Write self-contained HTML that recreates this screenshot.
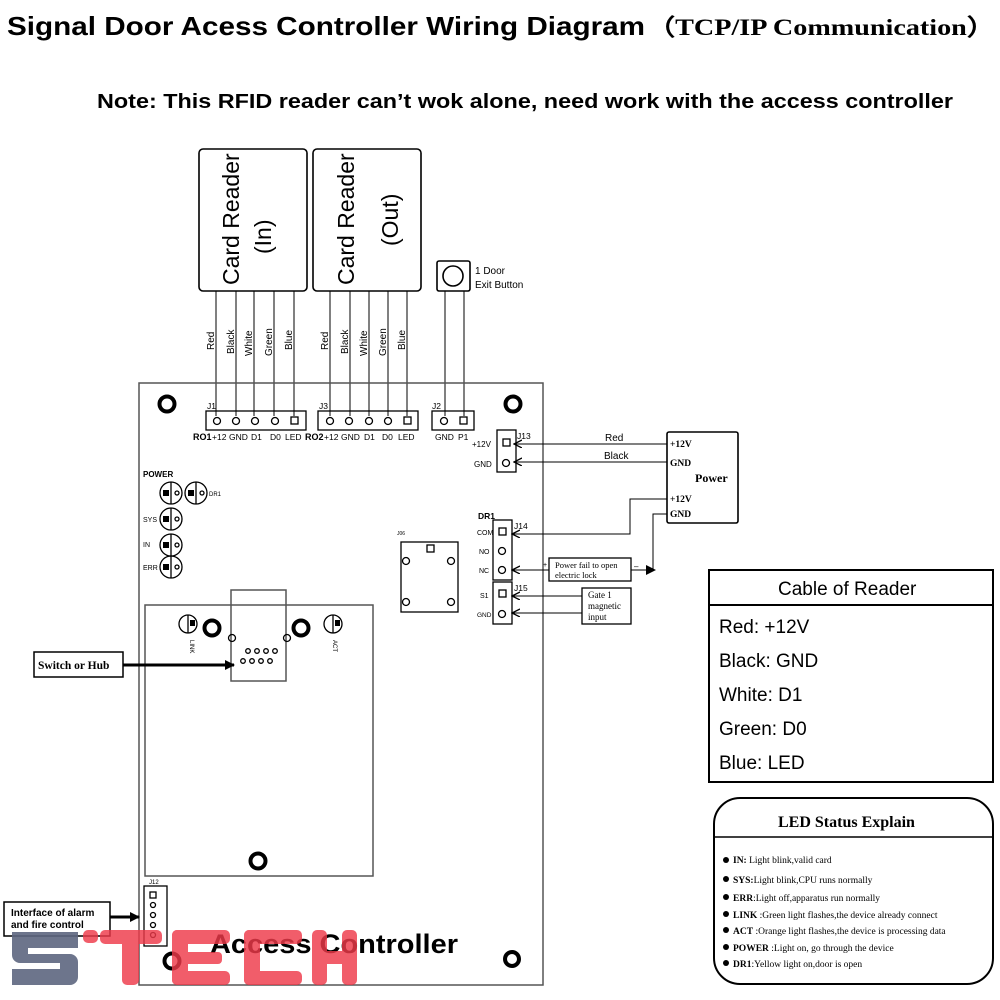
<!DOCTYPE html>
<html><head><meta charset="utf-8"><style>
html,body{margin:0;padding:0;background:#fff;}
svg{display:block;}
.s{font-family:"Liberation Sans",sans-serif;}
.r{font-family:"Liberation Serif",serif;}
</style></head><body>
<svg width="1000" height="1000" viewBox="0 0 1000 1000" xmlns="http://www.w3.org/2000/svg">
<defs>
<marker id="ah" markerWidth="9" markerHeight="9" refX="8" refY="4" orient="auto" markerUnits="userSpaceOnUse"><path d="M0,0 L8,4 L0,8" fill="none" stroke="#000" stroke-width="1.3"/></marker>
<marker id="af" markerWidth="10" markerHeight="10" refX="9" refY="5" orient="auto" markerUnits="userSpaceOnUse"><path d="M0,0 L10,5 L0,10Z" fill="#000"/></marker>
</defs>
<rect width="1000" height="1000" fill="#fff"/>
<!-- titles -->
<text x="7" y="35" class="s" font-weight="bold" font-size="26" textLength="638" lengthAdjust="spacingAndGlyphs">Signal Door Acess Controller Wiring Diagram</text>
<text x="647" y="35" class="r" font-weight="bold" font-size="23" textLength="348" lengthAdjust="spacingAndGlyphs">（TCP/IP Communication）</text>
<text x="97" y="108" class="s" font-weight="bold" font-size="20" textLength="856" lengthAdjust="spacingAndGlyphs">Note: This RFID reader can’t wok alone, need work with the access controller</text>

<g fill="none" stroke="#000" stroke-width="1.6">
<rect x="199" y="149" width="108" height="142" rx="4"/>
<rect x="313" y="149" width="108" height="142" rx="4"/>
<rect x="437" y="261" width="33" height="30" rx="2"/>
<circle cx="453" cy="276" r="10"/>
</g>
<g class="s" font-size="23" fill="#000">
<text transform="translate(239,285) rotate(-90)">Card Reader</text>
<text transform="translate(271,254) rotate(-90)">(In)</text>
<text transform="translate(354,285) rotate(-90)">Card Reader</text>
<text transform="translate(398,246) rotate(-90)">(Out)</text>
</g>
<text x="475" y="274" class="s" font-size="10">1 Door</text>
<text x="475" y="288" class="s" font-size="10">Exit Button</text>
<g stroke="#000" stroke-width="1">
<line x1="216" y1="291" x2="216" y2="416"/><line x1="236" y1="291" x2="236" y2="416"/><line x1="254" y1="291" x2="254" y2="416"/><line x1="274" y1="291" x2="274" y2="416"/><line x1="294" y1="291" x2="294" y2="416"/>
<line x1="330" y1="291" x2="330" y2="416"/><line x1="350" y1="291" x2="350" y2="416"/><line x1="369" y1="291" x2="369" y2="416"/><line x1="388" y1="291" x2="388" y2="416"/><line x1="407" y1="291" x2="407" y2="416"/>
<line x1="445" y1="291" x2="445" y2="416"/><line x1="464" y1="291" x2="464" y2="416"/>
</g>
<g class="s" font-size="10" fill="#000">
<text transform="translate(214,350) rotate(-90)">Red</text>
<text transform="translate(234,354) rotate(-90)">Black</text>
<text transform="translate(252,356) rotate(-90)">White</text>
<text transform="translate(272,356) rotate(-90)">Green</text>
<text transform="translate(292,350) rotate(-90)">Blue</text>
<text transform="translate(328,350) rotate(-90)">Red</text>
<text transform="translate(348,354) rotate(-90)">Black</text>
<text transform="translate(367,356) rotate(-90)">White</text>
<text transform="translate(386,356) rotate(-90)">Green</text>
<text transform="translate(405,350) rotate(-90)">Blue</text>
</g>

<!-- main board -->
<g fill="none" stroke="#555" stroke-width="1.5">
<rect x="139" y="383" width="404" height="602"/>
<rect x="145" y="605" width="228" height="271"/>
<rect x="231" y="590" width="55" height="91"/>
</g>
<g fill="none" stroke="#000" stroke-width="4">
<circle cx="167" cy="404" r="7.5"/><circle cx="513" cy="404" r="7.5"/>
<circle cx="212" cy="628" r="7.5"/><circle cx="301" cy="628" r="7.5"/>
<circle cx="258" cy="861" r="7.5"/><circle cx="172" cy="961" r="7.5"/><circle cx="512" cy="959" r="7"/>
</g>
<g fill="none" stroke="#000" stroke-width="1.3">
<rect x="206" y="411" width="100" height="19"/>
<rect x="318" y="411" width="100" height="19"/>
<rect x="432" y="411" width="42" height="19"/>
<rect x="497" y="430" width="19" height="42"/>
<rect x="493" y="520" width="19" height="60"/>
<rect x="493" y="582" width="19" height="42"/>
<rect x="401" y="542" width="57" height="70"/>
<rect x="144" y="886" width="23" height="60"/>
<circle cx="217" cy="421" r="3.5"/><circle cx="236" cy="421" r="3.5"/><circle cx="255" cy="421" r="3.5"/><circle cx="275" cy="421" r="3.5"/><rect x="291" y="417" width="7" height="7"/>
<circle cx="330" cy="421" r="3.5"/><circle cx="349" cy="421" r="3.5"/><circle cx="369" cy="421" r="3.5"/><circle cx="388" cy="421" r="3.5"/><rect x="404" y="417" width="7" height="7"/>
<circle cx="444" cy="421" r="3.5"/><rect x="460" y="417" width="7" height="7"/>
<rect x="503" y="439" width="7" height="7"/><circle cx="506" cy="463" r="3.5"/>
<rect x="499" y="528" width="7" height="7"/><circle cx="502" cy="551" r="3.5"/><circle cx="502" cy="570" r="3.5"/>
<rect x="499" y="590" width="7" height="7"/><circle cx="502" cy="614" r="3.5"/>
<rect x="427" y="545" width="7" height="7"/><circle cx="406" cy="561" r="3.5"/><circle cx="451" cy="561" r="3.5"/><circle cx="406" cy="602" r="3.5"/><circle cx="451" cy="602" r="3.5"/>
<rect x="150" y="892" width="6" height="6"/><circle cx="153" cy="905" r="2.5"/><circle cx="153" cy="915" r="2.5"/><circle cx="153" cy="925" r="2.5"/><circle cx="153" cy="935" r="2.5"/>
<circle cx="171" cy="493" r="11"/><circle cx="196" cy="493" r="11"/><circle cx="171" cy="519" r="11"/><circle cx="171" cy="545" r="11"/><circle cx="171" cy="567" r="11"/>
<line x1="171" y1="482" x2="171" y2="504"/><line x1="196" y1="482" x2="196" y2="504"/><line x1="171" y1="508" x2="171" y2="530"/><line x1="171" y1="534" x2="171" y2="556"/><line x1="171" y1="556" x2="171" y2="578"/>
<circle cx="177" cy="493" r="2"/><circle cx="202" cy="493" r="2"/><circle cx="177" cy="519" r="2"/><circle cx="177" cy="545" r="2"/><circle cx="177" cy="567" r="2"/>
<circle cx="188" cy="624" r="9"/><circle cx="333" cy="624" r="9"/>
<line x1="188" y1="615" x2="188" y2="633"/><line x1="333" y1="615" x2="333" y2="633"/>
<circle cx="232" cy="638" r="3.5"/><circle cx="287" cy="638" r="3.5"/>
<circle cx="248" cy="651" r="2.3"/><circle cx="257" cy="651" r="2.3"/><circle cx="266" cy="651" r="2.3"/><circle cx="275" cy="651" r="2.3"/>
<circle cx="243" cy="661" r="2.3"/><circle cx="252" cy="661" r="2.3"/><circle cx="261" cy="661" r="2.3"/><circle cx="270" cy="661" r="2.3"/>
</g>
<g fill="#000">
<rect x="163" y="490" width="6" height="6"/><rect x="188" y="490" width="6" height="6"/><rect x="163" y="516" width="6" height="6"/><rect x="163" y="542" width="6" height="6"/><rect x="163" y="564" width="6" height="6"/>
<rect x="190" y="620" width="5" height="6"/><rect x="335" y="620" width="5" height="6"/>
</g>
<g class="s" font-size="8.5" fill="#000">
<text x="207" y="409">J1</text><text x="319" y="409">J3</text><text x="432" y="409">J2</text>
<text x="193" y="440" font-weight="bold" font-size="9">RO1</text>
<text x="212" y="440">+12</text><text x="229" y="440">GND</text><text x="251" y="440">D1</text><text x="270" y="440">D0</text><text x="285" y="440">LED</text>
<text x="305" y="440" font-weight="bold" font-size="9">RO2</text>
<text x="324" y="440">+12</text><text x="341" y="440">GND</text><text x="364" y="440">D1</text><text x="382" y="440">D0</text><text x="398" y="440">LED</text>
<text x="435" y="440">GND</text><text x="458" y="440">P1</text>
<text x="517" y="439">J13</text><text x="472" y="447" font-size="8">+12V</text><text x="474" y="467" font-size="8">GND</text>
<text x="478" y="519" font-weight="bold">DR1</text><text x="514" y="529">J14</text>
<text x="477" y="535" font-size="7">COM</text><text x="479" y="554" font-size="7">NO</text><text x="479" y="573" font-size="7">NC</text>
<text x="514" y="591">J15</text><text x="480" y="598" font-size="7">S1</text><text x="477" y="617" font-size="6.5">GND</text>
<text x="143" y="477" font-weight="bold" font-size="8">POWER</text><text x="209" y="496" font-size="6">DR1</text>
<text x="143" y="522" font-size="7">SYS</text><text x="143" y="547" font-size="7">IN</text><text x="143" y="570" font-size="7">ERR</text>
<text x="397" y="535" font-size="5">J06</text><text x="149" y="884" font-size="6">J12</text>
<text transform="translate(190,640) rotate(90)" font-size="6">LINK</text>
<text transform="translate(333,640) rotate(90)" font-size="6">ACT</text>
</g>
<text x="210" y="953" class="s" font-weight="bold" font-size="27" textLength="248" lengthAdjust="spacingAndGlyphs">Access Controller</text>

<!-- power box -->
<rect x="667" y="432" width="71" height="91" fill="none" stroke="#000" stroke-width="1.6" rx="2"/>
<g class="r" font-size="9.5" font-weight="bold" fill="#000">
<text x="670" y="447">+12V</text><text x="670" y="466">GND</text><text x="670" y="502">+12V</text><text x="670" y="517">GND</text>
<text x="695" y="482" font-size="12">Power</text>
</g>
<g fill="none" stroke="#000" stroke-width="1">
<line x1="667" y1="444" x2="514" y2="444" marker-end="url(#ah)"/>
<line x1="667" y1="462" x2="514" y2="462" marker-end="url(#ah)"/>
<polyline points="667,499 630,499 630,534 512,534" marker-end="url(#ah)"/>
<polyline points="667,514 653,514 653,570 648,570"/>
<line x1="630" y1="570" x2="655" y2="570" marker-end="url(#af)"/>
<line x1="549" y1="570" x2="512" y2="570" marker-end="url(#ah)"/>
<line x1="582" y1="596" x2="512" y2="596" marker-end="url(#ah)"/>
<line x1="582" y1="613" x2="512" y2="613" marker-end="url(#ah)"/>
</g>
<text x="605" y="441" class="s" font-size="10">Red</text>
<text x="604" y="459" class="s" font-size="10">Black</text>
<rect x="549" y="558" width="82" height="23" fill="#fff" stroke="#000" stroke-width="1.3"/>
<text x="555" y="568" class="r" font-size="8.5">Power fail to open</text>
<text x="555" y="578" class="r" font-size="8.5">electric lock</text>
<text x="543" y="567" class="s" font-size="7">+</text><text x="634" y="569" class="s" font-size="8">–</text>
<rect x="582" y="588" width="49" height="36" fill="#fff" stroke="#000" stroke-width="1.3"/>
<g class="r" font-size="9"><text x="588" y="598">Gate 1</text><text x="588" y="609">magnetic</text><text x="588" y="620">input</text></g>

<!-- left labels -->
<rect x="34" y="652" width="89" height="25" fill="#fff" stroke="#000" stroke-width="1.5"/>
<text x="38" y="669" class="r" font-weight="bold" font-size="11.5">Switch or Hub</text>
<line x1="123" y1="665" x2="234" y2="665" stroke="#000" stroke-width="3" marker-end="url(#af)"/>
<rect x="4" y="902" width="106" height="34" fill="#fff" stroke="#000" stroke-width="1.5"/>
<text x="11" y="916" class="s" font-weight="bold" font-size="10">Interface of alarm</text>
<text x="11" y="928" class="s" font-weight="bold" font-size="10">and fire control</text>
<line x1="110" y1="917" x2="139" y2="917" stroke="#000" stroke-width="3" marker-end="url(#af)"/>

<!-- Cable box -->
<rect x="709" y="570" width="284" height="212" fill="none" stroke="#000" stroke-width="2"/>
<line x1="709" y1="605" x2="993" y2="605" stroke="#000" stroke-width="2"/>
<g class="s" font-size="19" fill="#000">
<text x="778" y="595">Cable of Reader</text>
<text x="719" y="633">Red: +12V</text><text x="719" y="667">Black: GND</text><text x="719" y="701">White: D1</text><text x="719" y="735">Green: D0</text><text x="719" y="769">Blue: LED</text>
</g>
<!-- LED box -->
<rect x="714" y="798" width="279" height="186" rx="26" fill="none" stroke="#000" stroke-width="2"/>
<line x1="715" y1="837" x2="992" y2="837" stroke="#000" stroke-width="1.5"/>
<text x="778" y="827" class="r" font-weight="bold" font-size="16">LED Status Explain</text>
<g class="r" font-size="9.5" fill="#000">
<circle cx="726" cy="860" r="3"/><text x="733" y="863"><tspan font-weight="bold">IN:</tspan> Light blink,valid card</text>
<circle cx="726" cy="879" r="3"/><text x="733" y="883"><tspan font-weight="bold">SYS:</tspan>Light blink,CPU runs normally</text>
<circle cx="726" cy="897" r="3"/><text x="733" y="901"><tspan font-weight="bold">ERR</tspan>:Light off,apparatus run normally</text>
<circle cx="726" cy="914" r="3"/><text x="733" y="918"><tspan font-weight="bold">LINK</tspan> :Green light flashes,the device already connect</text>
<circle cx="726" cy="930" r="3"/><text x="733" y="934"><tspan font-weight="bold">ACT</tspan> :Orange light flashes,the device is processing data</text>
<circle cx="726" cy="947" r="3"/><text x="733" y="951"><tspan font-weight="bold">POWER</tspan> :Light on, go through the device</text>
<circle cx="726" cy="963" r="3"/><text x="733" y="967"><tspan font-weight="bold">DR1</tspan>:Yellow light on,door is open</text>
</g>

<!-- watermark -->
<g fill="#5d6680" opacity="0.9">
<path d="M12,932 h66 v16 h-50 v6 h42 a8,8 0 0 1 8,8 v15 a8,8 0 0 1 -8,8 h-58 v-16 h48 v-6 h-40 a8,8 0 0 1 -8,-8 z"/>
</g>
<g fill="#ee3a4a" opacity="0.82">
<rect x="83" y="930" width="15" height="13" rx="5"/>
<rect x="100" y="930" width="62" height="14" rx="5"/><rect x="122" y="930" width="17" height="55" rx="5"/>
<rect x="172" y="930" width="58" height="14" rx="5"/><rect x="172" y="930" width="16" height="55" rx="5"/><rect x="172" y="952" width="50" height="12" rx="4"/><rect x="172" y="971" width="58" height="14" rx="5"/>
<rect x="244" y="930" width="58" height="14" rx="5"/><rect x="244" y="930" width="16" height="55" rx="5"/><rect x="244" y="971" width="58" height="14" rx="5"/>
<rect x="312" y="930" width="15" height="55" rx="5"/><rect x="342" y="930" width="15" height="55" rx="5"/><rect x="312" y="951" width="45" height="13" rx="4"/>
</g>
</svg>
</body></html>
